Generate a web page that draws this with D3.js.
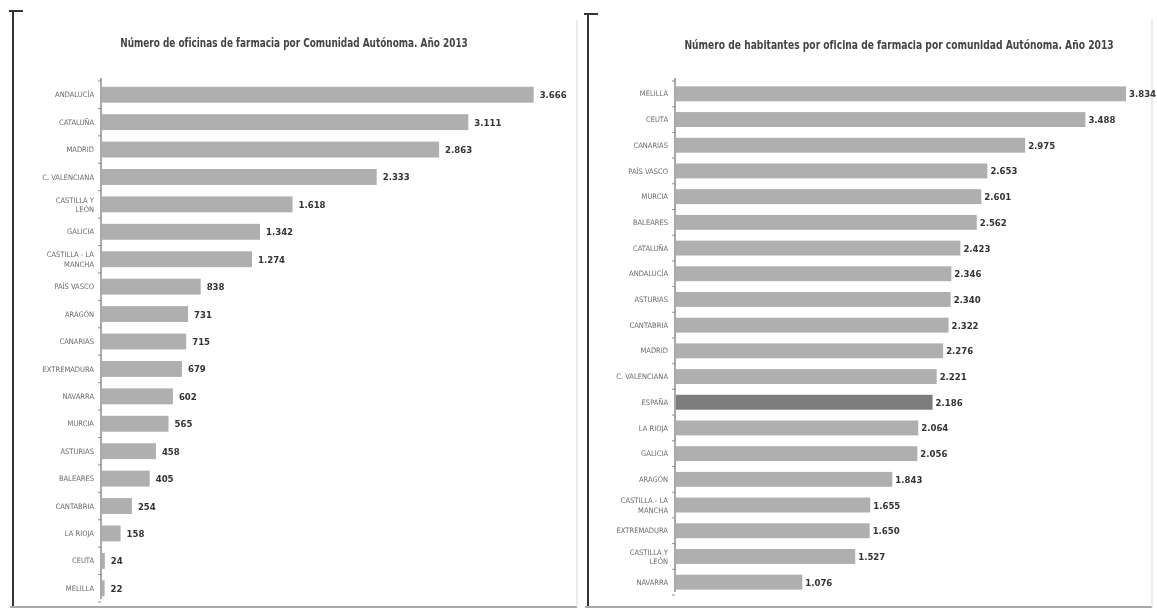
<!DOCTYPE html>
<html lang="es">
<head>
<meta charset="UTF-8">
<title>Oficinas de farmacia por Comunidad Autónoma 2013</title>
<script src="https://d3js.org/d3.v7.min.js"></script>
<style>
  body { margin: 0; background: #fff; }
  svg { display: block; filter: blur(0.35px); }
  .title { font-family: "Liberation Sans Narrow", "Arial Narrow", "DejaVu Sans Condensed", sans-serif; font-weight: bold; fill: #444; }
  .cat { font-family: "DejaVu Sans Condensed", "Liberation Sans Narrow", sans-serif; font-size: 7.5px; fill: #6a6a6a; }
  .val { font-family: "Liberation Sans Narrow", "Arial Narrow", "DejaVu Sans Condensed", sans-serif; font-weight: bold; font-size: 9.5px; fill: #333; }
</style>
</head>
<body>
<svg id="chart" width="1157" height="614"></svg>
<script>
// Oficinas de farmacia por comunidad
const oficinasCats = ["ANDALUCÍA", "CATALUÑA", "MADRID", "C. VALENCIANA", "CASTILLA Y LEÓN", "GALICIA",
  "CASTILLA - LA MANCHA", "PAÍS VASCO", "ARAGÓN", "CANARIAS", "EXTREMADURA", "NAVARRA", "MURCIA",
  "ASTURIAS", "BALEARES", "CANTABRIA", "LA RIOJA", "CEUTA", "MELILLA"];
const oficinasVals = [3666, 3111, 2863, 2333, 1618, 1342, 1274, 838, 731, 715, 679, 602, 565, 458, 405, 254, 158, 24, 22];

// Habitantes por oficina
const habitantesCats = ["MELILLA", "CEUTA", "CANARIAS", "PAÍS VASCO", "MURCIA", "BALEARES", "CATALUÑA",
  "ANDALUCÍA", "ASTURIAS", "CANTABRIA", "MADRID", "C. VALENCIANA", "ESPAÑA", "LA RIOJA", "GALICIA",
  "ARAGÓN", "CASTILLA - LA MANCHA", "EXTREMADURA", "CASTILLA Y LEÓN", "NAVARRA"];
const habitantesVals = [3834, 3488, 2975, 2653, 2601, 2562, 2423, 2346, 2340, 2322, 2276, 2221, 2186,
  2064, 2056, 1843, 1655, 1650, 1527, 1076];

const fmt = v => d3.format(",")(v).replace(/,/g, ".");
const svg = d3.select("#chart");

// marco de cada panel (escaneado)
function frame(x0, x1, yTop) {
  svg.append("line").attr("x1", x0).attr("x2", x0).attr("y1", yTop).attr("y2", 607)
    .attr("stroke", "#333").attr("stroke-width", 2);
  svg.append("line").attr("x1", x0 - 4).attr("x2", x0 + 10).attr("y1", yTop + 1).attr("y2", yTop + 1)
    .attr("stroke", "#333").attr("stroke-width", 2);
  svg.append("line").attr("x1", x0 - 3).attr("x2", x1).attr("y1", 607).attr("y2", 607)
    .attr("stroke", "#aaa").attr("stroke-width", 2);
  svg.append("line").attr("x1", x1).attr("x2", x1).attr("y1", 20).attr("y2", 607)
    .attr("stroke", "#e4e4e4").attr("stroke-width", 1.5);
}
frame(13, 577, 10);
frame(588, 1152, 13);

function barChart(opts) {
  const g = svg.append("g");
  const y = d3.scaleBand().domain(opts.cats).range(opts.yRange).paddingInner(0.42).paddingOuter(0.21);
  const x = d3.scaleLinear().domain([0, opts.max]).range([opts.x0, opts.x1]);

  // título: se estrecha con una escala horizontal hasta el ancho deseado
  const title = g.append("text").attr("class", "title")
    .attr("text-anchor", "middle")
    .attr("font-size", opts.titleSize)
    .text(opts.title);
  const w = title.node().getComputedTextLength();
  const k = Math.min(1, opts.titleLen / w);
  title.attr("transform", `translate(${opts.titleX},${opts.titleY}) scale(${k},1)`);

  g.selectAll("rect").data(opts.cats).enter().append("rect")
    .attr("x", x(0) + 1)
    .attr("y", d => y(d))
    .attr("width", (d, i) => x(opts.vals[i]) - x(0))
    .attr("height", y.bandwidth())
    .attr("fill", d => d === "ESPAÑA" ? "#7d7d7d" : "#afafaf");

  // eje vertical con pequeñas marcas
  g.append("line").attr("x1", x(0)).attr("x2", x(0))
    .attr("y1", opts.yRange[0] - 3).attr("y2", opts.yRange[1] - 3)
    .attr("stroke", "#555").attr("stroke-width", 1);
  const step = y.step();
  g.selectAll(".tk").data(d3.range(opts.cats.length + 1)).enter().append("line")
    .attr("x1", x(0) - 3).attr("x2", x(0))
    .attr("y1", i => opts.yRange[0] + i * step).attr("y2", i => opts.yRange[0] + i * step)
    .attr("stroke", "#777").attr("stroke-width", 0.8);

  // etiquetas de categorías
  g.selectAll(".cat").data(opts.cats).enter().append("text")
    .attr("class", "cat")
    .attr("text-anchor", "end")
    .attr("x", x(0) - 7)
    .attr("y", d => y(d) + y.bandwidth() / 2)
    .each(function (d) {
      const t = d3.select(this);
      const parts = d.startsWith("CASTILLA") ? (d.includes("MANCHA") ? ["CASTILLA - LA", "MANCHA"] : ["CASTILLA Y", "LEÓN"]) : [d];
      parts.forEach((p, k) => {
        t.append("tspan").attr("x", x(0) - 7)
          .attr("dy", k === 0 ? (parts.length > 1 ? "-0.25em" : "0.35em") : "1.25em")
          .text(p);
      });
    });

  // valores
  g.selectAll(".val").data(opts.cats).enter().append("text")
    .attr("class", "val")
    .attr("x", (d, i) => x(opts.vals[i]) + opts.gap)
    .attr("y", d => y(d) + y.bandwidth() / 2 + 3.5)
    .text((d, i) => fmt(opts.vals[i]));
}

barChart({
  cats: oficinasCats, vals: oficinasVals, max: 4000,
  x0: 101, x1: 101 + 471, yRange: [81, 602], gap: 7,
  title: "Número de oficinas de farmacia por Comunidad Autónoma. Año 2013",
  titleX: 294, titleY: 47, titleSize: 13, titleLen: 348
});

barChart({
  cats: habitantesCats, vals: habitantesVals, max: 3834,
  x0: 675, x1: 675 + 450, yRange: [81, 595], gap: 4,
  title: "Número de habitantes por oficina de farmacia por comunidad Autónoma. Año 2013",
  titleX: 899, titleY: 49, titleSize: 12, titleLen: 430
});
</script>
</body>
</html>
